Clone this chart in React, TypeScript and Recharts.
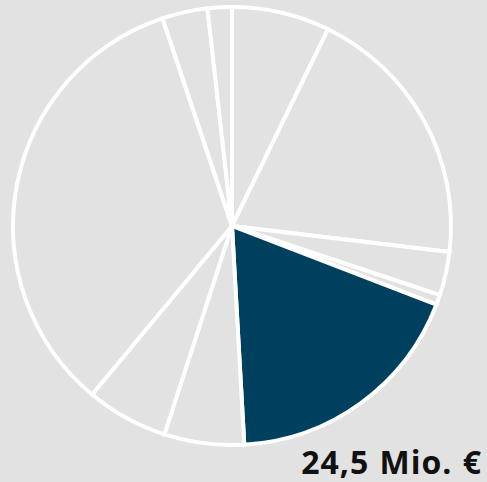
import React from 'react';
import { PieChart, Pie, Cell } from 'recharts';

// Slice values in Mio. €, clockwise from 12 o'clock
const segments = ['A', 'B', 'C', 'D', 'E', 'F', 'G', 'H', 'I', 'J'];
const amounts = [9.7, 26.4, 4.3, 1.0, 24.5, 7.9, 8.1, 45.4, 4.5, 2.4];
const highlighted = 'E';
const highlightLabel = '24,5 Mio. €';

const BG = '#e2e2e2';
const BLUE = '#00405f';

const data = segments.map((name, i) => ({ name, value: amounts[i] }));

export default function App() {
  return (
    <div style={{ position: 'absolute', top: 0, left: 0, width: 487, height: 482, background: BG }}>
      <PieChart width={487} height={482} margin={{ top: 0, right: 0, bottom: 0, left: 0 }}>
        <Pie
          data={data}
          dataKey="value"
          nameKey="name"
          cx={232}
          cy={226}
          innerRadius={0}
          outerRadius={219}
          startAngle={90}
          endAngle={-270}
          stroke="#ffffff"
          strokeWidth={4}
          isAnimationActive={false}
        >
          {data.map((d) => (
            <Cell key={d.name} fill={d.name === highlighted ? BLUE : BG} stroke="#ffffff" strokeWidth={4} />
          ))}
        </Pie>
        <text
          x={482}
          y={474}
          textAnchor="end"
          fontFamily="'Open Sans', sans-serif"
          fontWeight={700}
          fontSize={32}
          letterSpacing={1}
          wordSpacing={1}
          fill="#111111"
        >
          {highlightLabel}
        </text>
      </PieChart>
    </div>
  );
}
